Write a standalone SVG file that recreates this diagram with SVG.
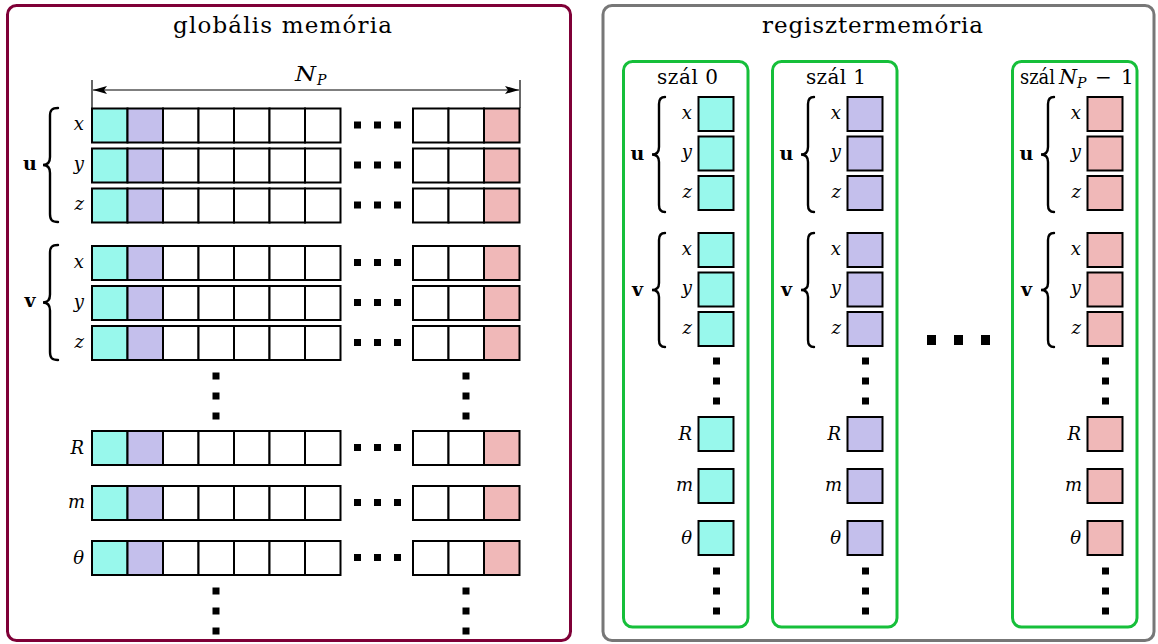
<svg xmlns="http://www.w3.org/2000/svg" xmlns:xlink="http://www.w3.org/1999/xlink" width="1158" height="644" viewBox="0 0 1158 644">
<style>
text{fill:#000;font-family:'DejaVu Serif','Liberation Serif',serif}
.title{font-size:23px}
.sz{font-size:20px}
.var{font-size:18px;font-style:italic;text-anchor:end}
.bold{font-size:19px;font-weight:bold;text-anchor:middle}
.cell{stroke:#000;stroke-width:2}
.c{fill:#98F8EC}.p{fill:#C4BFEC}.w{fill:#fff}.r{fill:#F0B8B8}
.dot{fill:#000}
.brace{fill:none;stroke:#000;stroke-width:2.4;stroke-linecap:round}
.thread{fill:#fff;stroke:#16BF3A;stroke-width:3}
</style>
<defs>
<marker id="ah" viewBox="0 0 14 8" refX="14" refY="4" markerWidth="14" markerHeight="8" markerUnits="userSpaceOnUse" orient="auto-start-reverse">
<path d="M0,0 L14,4 L0,8 L3,4 Z" fill="#000"/>
</marker>
<g id="row">
<rect class="cell c" x="92" y="0" width="35.5" height="34"/>
<rect class="cell p" x="127.5" y="0" width="35.5" height="34"/>
<rect class="cell w" x="163" y="0" width="35.5" height="34"/>
<rect class="cell w" x="198.5" y="0" width="35.5" height="34"/>
<rect class="cell w" x="234" y="0" width="35.5" height="34"/>
<rect class="cell w" x="269.5" y="0" width="35.5" height="34"/>
<rect class="cell w" x="305" y="0" width="35.5" height="34"/>
<rect class="dot" x="354" y="13" width="7" height="7"/>
<rect class="dot" x="374" y="13" width="7" height="7"/>
<rect class="dot" x="394" y="13" width="7" height="7"/>
<rect class="cell w" x="413" y="0" width="35.5" height="34"/>
<rect class="cell w" x="448.5" y="0" width="35.5" height="34"/>
<rect class="cell r" x="484" y="0" width="35.5" height="34"/>
</g>
<g id="col">
<rect class="thread" x="623.5" y="61.5" width="124.5" height="565.5" rx="9"/>
<path class="brace" d="M665,97 C661,97 659,99 659,104 L659,147 C659,152 657,154.5 652,154.5 C657,154.5 659,157 659,162 L659,205 C659,210 661,212 665,212"/>
<path class="brace" d="M665,233 C661,233 659,235 659,240 L659,283 C659,288 657,290 652,290 C657,290 659,292 659,297 L659,340 C659,345 661,347 665,347"/>
<text class="bold" x="637.5" y="160">u</text>
<text class="bold" x="637.5" y="296">v</text>
<g stroke="#000" stroke-width="2">
<rect x="698.5" y="97" width="35" height="34"/>
<rect x="698.5" y="136.5" width="35" height="34"/>
<rect x="698.5" y="176" width="35" height="34"/>
<rect x="698.5" y="233" width="35" height="34"/>
<rect x="698.5" y="272.5" width="35" height="34"/>
<rect x="698.5" y="312" width="35" height="34"/>
<rect x="698.5" y="417" width="35" height="34"/>
<rect x="698.5" y="469" width="35" height="34"/>
<rect x="698.5" y="521" width="35" height="34"/>
</g>
<text class="var" x="692" y="119">x</text>
<text class="var" x="692" y="158">y</text>
<text class="var" x="692" y="198">z</text>
<text class="var" x="692" y="255">x</text>
<text class="var" x="692" y="294">y</text>
<text class="var" x="692" y="334">z</text>
<text class="var" x="692" y="440">R</text>
<text class="var" x="693" y="491">m</text>
<text class="var" x="692" y="544">θ</text>
<rect class="dot" x="713" y="357.5" width="7" height="7"/>
<rect class="dot" x="713" y="377.5" width="7" height="7"/>
<rect class="dot" x="713" y="397.5" width="7" height="7"/>
<rect class="dot" x="713" y="567.5" width="7" height="7"/>
<rect class="dot" x="713" y="587.5" width="7" height="7"/>
<rect class="dot" x="713" y="607.5" width="7" height="7"/>
</g>
</defs>

<g id="global-memory">
<rect x="7.5" y="5.5" width="563" height="635" rx="9" fill="#fff" stroke="#7F0037" stroke-width="3"/>
<text class="title" x="173" y="33" textLength="219" lengthAdjust="spacing">globális memória</text>
<g id="np-span">
<line x1="92" y1="80" x2="92" y2="108" stroke="#000" stroke-width="1.2"/>
<line x1="520" y1="80" x2="520" y2="108" stroke="#000" stroke-width="1.2"/>
<text x="295" y="81" font-size="21" font-style="italic" textLength="21" lengthAdjust="spacingAndGlyphs">N</text>
<text x="317" y="85" font-size="14" font-style="italic">P</text>
</g>
<g id="rows">
<use xlink:href="#row" href="#row" y="108.5"/>
<use xlink:href="#row" href="#row" y="148.5"/>
<use xlink:href="#row" href="#row" y="188.5"/>
<use xlink:href="#row" href="#row" y="246"/>
<use xlink:href="#row" href="#row" y="286"/>
<use xlink:href="#row" href="#row" y="326"/>
<use xlink:href="#row" href="#row" y="431"/>
<use xlink:href="#row" href="#row" y="486"/>
<use xlink:href="#row" href="#row" y="541"/>
</g>
<g id="row-labels">
<text class="var" x="84" y="130">x</text>
<text class="var" x="84" y="170">y</text>
<text class="var" x="84" y="210">z</text>
<text class="var" x="84" y="268">x</text>
<text class="var" x="84" y="308">y</text>
<text class="var" x="84" y="348">z</text>
<text class="var" x="84" y="454">R</text>
<text class="var" x="85" y="508">m</text>
<text class="var" x="84" y="564">θ</text>
<text class="bold" x="30" y="170">u</text>
<text class="bold" x="30" y="307">v</text>
</g>
<path class="brace" d="M58,108 C52,108 50,110 50,116 L50,157 C50,162 48,165 43,165 C48,165 50,168 50,173 L50,214 C50,220 52,222 58,222"/>
<path class="brace" d="M58,245 C52,245 50,247 50,253 L50,294.5 C50,299.5 48,302.5 43,302.5 C48,302.5 50,305.5 50,310.5 L50,352 C50,358 52,360 58,360"/>
<g id="vdots-left">
<rect class="dot" x="212.5" y="372.5" width="7" height="7"/>
<rect class="dot" x="212.5" y="392.5" width="7" height="7"/>
<rect class="dot" x="212.5" y="412.5" width="7" height="7"/>
<rect class="dot" x="462.5" y="372.5" width="7" height="7"/>
<rect class="dot" x="462.5" y="392.5" width="7" height="7"/>
<rect class="dot" x="462.5" y="412.5" width="7" height="7"/>
<rect class="dot" x="212.5" y="587.5" width="7" height="7"/>
<rect class="dot" x="212.5" y="607.5" width="7" height="7"/>
<rect class="dot" x="212.5" y="627.5" width="7" height="7"/>
<rect class="dot" x="462.5" y="587.5" width="7" height="7"/>
<rect class="dot" x="462.5" y="607.5" width="7" height="7"/>
<rect class="dot" x="462.5" y="627.5" width="7" height="7"/>
</g>
</g>

<g id="connectors">
<line x1="93" y1="90" x2="519" y2="90" stroke="#000" stroke-width="1.2" marker-start="url(#ah)" marker-end="url(#ah)"/>
</g>

<g id="register-memory">
<rect x="603" y="5.5" width="551" height="635" rx="9" fill="#fff" stroke="#777" stroke-width="3"/>
<text class="title" x="762" y="33" textLength="221" lengthAdjust="spacing">regisztermemória</text>
<g id="thread-0">
<use xlink:href="#col" href="#col" fill="#98F8EC"/>
<text class="sz" x="657" y="84" textLength="61" lengthAdjust="spacing">szál 0</text>
</g>
<g id="thread-1">
<use xlink:href="#col" href="#col" fill="#C4BFEC" transform="translate(149,0)"/>
<text class="sz" x="806" y="84" textLength="60" lengthAdjust="spacing">szál 1</text>
</g>
<g id="mid-dots">
<rect class="dot" x="927" y="335" width="9" height="10"/>
<rect class="dot" x="954" y="335" width="9" height="10"/>
<rect class="dot" x="981" y="335" width="9" height="10"/>
</g>
<g id="thread-last">
<use xlink:href="#col" href="#col" fill="#F0B8B8" transform="translate(389,0)"/>
<text class="sz" x="1020" y="84" textLength="35" lengthAdjust="spacingAndGlyphs">szál</text>
<text class="sz" x="1059" y="84" font-style="italic" textLength="18" lengthAdjust="spacingAndGlyphs">N</text>
<text x="1077" y="88" font-size="14" font-style="italic">P</text>
<text class="sz" x="1095" y="84">−</text>
<text class="sz" x="1121" y="84">1</text>
</g>
</g>
</svg>
